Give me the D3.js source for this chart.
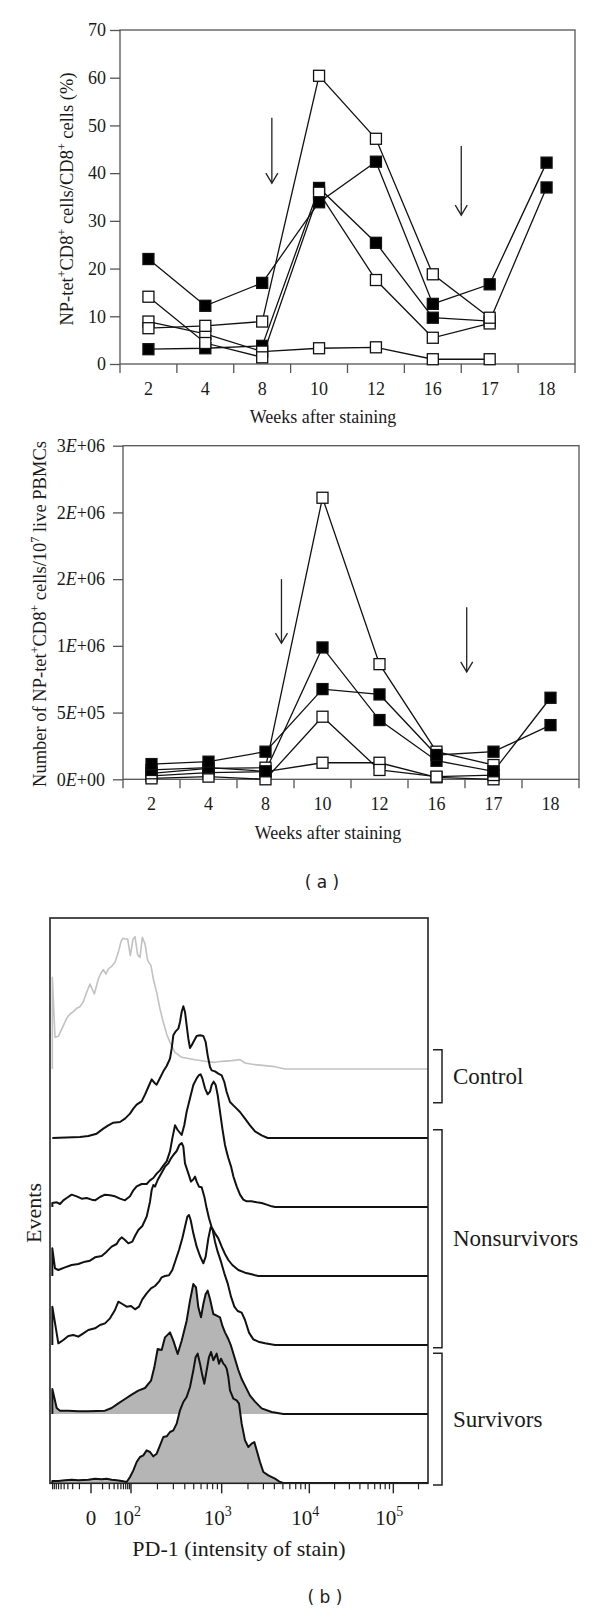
<!DOCTYPE html>
<html><head><meta charset="utf-8">
<script src="https://cdn.jsdelivr.net/npm/d3@7/dist/d3.min.js"></script>
<style>
body{margin:0;background:#fff}
svg{display:block}
text{font-family:"Liberation Serif","Times New Roman",serif;fill:#1a1a1a}
</style></head>
<body><svg id="c" width="600" height="1613"></svg>
<script>
// ---------------- DATA ----------------
const weeks = ["2","4","8","10","12","16","17","18"];

// (a) top: NP-tet+CD8+ cells / CD8+ cells (%)
const pctOpenA  = [7.5, 8.0, 8.9, 60.4, 47.2, 18.8, 9.7, null];
const pctOpenB  = [14.1, 4.4, 1.4, 35.9, 17.6, 5.5, 8.5, null];
const pctOpenC  = [8.9, 6.3, 2.6, 3.3, 3.5, 1.0, 1.0, null];
const pctFilledE = [3.1, 3.3, 3.8, 36.9, 25.4, 9.7, 9.0, 37.0];
const pctFilledD = [22.0, 12.2, 17.0, 33.9, 42.4, 12.6, 16.7, 42.2];
const pctTicks = [0, 10, 20, 30, 40, 50, 60, 70];
const pctTickLabels = ["0","10","20","30","40","50","60","70"];
const pctArrows = [{week:"8", frac:0.67, from:51.6, to:37.9}, {week:"16", frac:1.0, from:45.7, to:31.2}];

// (a) bottom: number of NP-tet+CD8+ cells / 10^7 live PBMCs
const numOpenA  = [45000, 82000, 87000, 2110000, 863000, 207000, 107000, null];
const numOpenB  = [7000, 20000, 0, 469000, 70000, 20000, 32000, null];
const numOpenC  = [25000, 50000, 57000, 124000, 124000, 15000, 0, null];
const numFilledE = [70000, 88000, 60000, 988000, 444000, 139000, 60000, 611000];
const numFilledD = [114000, 132000, 207000, 676000, 636000, 182000, 207000, 406000];
const numTicks = [0, 500000, 1000000, 1500000, 2000000, 2500000];
const numTickLabels = ["0E+00","5E+05","1E+06","2E+06","2E+06","3E+06"];
const numArrows = [{week:"8", frac:0.78, from:1500000, to:1020000}, {week:"17", frac:0.03, from:1290000, to:805000}];

// (b) PD-1 histograms: channel (0-1134) and events (mode ~396)
const ctrlCh  = [7,7,15,25,40,50,60,70,80,90,100,110,120,133,145,153,160,168,175,185,195,205,213,218,225,233,241,249,255,263,270,277,285,293,303,310,320,330,340,350,360,375,395,435,475,495,515,545,570,585,615,645,675,705,1134];
const ctrlCnt = [0,275,95,98,130,152,165,172,182,187,202,230,255,225,270,288,298,285,300,308,320,350,382,392,390,390,340,390,397,342,335,395,375,325,310,270,230,180,140,105,80,50,35,28,22,20,23,25,28,18,13,10,7,0,0];
const ns1Ch  = [7,90,115,140,160,175,190,210,225,240,250,260,275,285,295,305,313,320,330,340,350,360,365,370,377,385,390,395,400,405,410,415,420,425,433,440,450,460,467,473,480,485,495,505,515,523,530,540,550,560,570,585,600,615,635,653,1134];
const ns1Cnt = [0,3,6,13,28,38,46,48,58,73,88,100,110,130,153,176,166,160,180,200,216,238,268,308,320,328,348,378,395,378,338,298,270,278,293,306,308,306,288,248,213,203,200,193,188,168,138,108,98,88,78,58,38,20,8,0,0];
const ns2Ch  = [7,7,20,30,40,50,65,80,95,110,125,135,150,165,180,195,210,225,240,250,260,275,290,300,310,320,330,340,350,355,360,367,375,383,395,403,410,420,430,440,447,452,457,465,473,480,485,491,497,503,510,517,525,530,535,543,550,560,570,580,590,605,620,635,650,665,675,1134];
const ns2Cnt = [0,12,14,9,20,27,37,32,25,27,22,20,30,37,35,32,25,20,32,50,62,69,69,80,87,100,110,124,137,152,167,206,245,231,216,246,286,326,366,386,396,398,386,356,338,346,366,376,366,336,286,236,186,166,147,122,92,62,37,22,17,17,14,12,7,2,0,0];
const ns3Ch  = [7,7,15,25,45,65,85,105,120,135,155,170,185,200,207,215,225,235,247,255,265,277,290,300,305,310,315,323,335,345,355,363,370,380,388,395,400,405,415,423,430,435,440,447,455,463,470,477,485,495,505,515,525,535,547,565,585,605,625,1134];
const ns3Cnt = [0,83,23,18,26,33,36,43,46,56,60,73,88,96,108,116,108,98,103,120,138,150,178,223,258,273,268,288,310,328,338,353,363,375,393,399,388,338,308,283,290,298,283,268,266,238,203,173,146,128,113,88,66,48,33,18,10,5,0,0];
const ns4Ch  = [7,7,25,40,55,70,85,100,115,135,150,165,180,195,205,217,230,243,255,267,277,290,303,315,327,335,345,357,367,377,387,397,405,412,417,422,430,440,450,460,467,475,482,488,495,503,513,523,533,543,553,563,575,585,597,610,625,645,675,1134];
const ns4Cnt = [0,115,5,15,27,30,25,35,45,50,60,65,80,105,130,123,115,117,107,115,137,155,170,177,190,203,207,209,225,255,285,320,355,385,390,375,335,295,267,245,265,320,353,345,310,280,250,215,185,145,115,102,97,75,37,17,10,5,0,0];
const s1Ch  = [7,7,20,30,55,85,115,165,185,205,225,245,265,285,303,313,323,335,345,360,370,383,395,410,420,430,438,445,453,460,467,473,480,490,500,510,517,525,535,543,555,565,575,585,600,615,635,665,700,1134];
const s1Cnt = [0,75,18,10,10,8,8,10,18,32,45,58,70,78,100,140,195,192,230,245,220,180,220,280,340,390,380,320,290,330,360,370,345,300,295,290,265,245,225,205,165,132,105,85,55,37,17,6,0,0];
const s2Ch  = [7,7,25,45,65,85,115,135,155,170,185,200,215,230,240,250,260,270,280,290,300,310,320,330,340,350,360,370,380,390,400,410,420,430,437,443,450,457,463,470,477,483,490,495,500,507,513,520,525,530,535,540,550,560,567,575,585,595,605,613,620,630,640,655,675,690,700,1134];
const s2Cnt = [0,6,6,8,10,8,10,13,11,13,10,8,6,3,18,38,63,78,83,98,93,80,88,113,138,140,153,158,178,218,243,258,288,338,378,388,358,323,298,338,378,393,368,378,388,358,373,358,353,343,318,278,253,248,238,178,128,108,118,123,98,63,33,23,13,3,0,0];

// PD-1 axis (biexponential display): anchor values and the channels they sit on
const pd1AnchorValues   = [-100, 0, 100, 1000, 10000, 100000, 262144];
const pd1AnchorChannels = [3, 123, 243, 515, 778, 1030, 1135];
const pd1MajorTicks = [0, 100, 1000, 10000, 100000];
const pd1MajorLabels = [["0",""],["10","2"],["10","3"],["10","4"],["10","5"]];
const pd1MinorTicks = [-90,-80,-70,-60,-50,-40,-30,-20,-10,10,20,30,40,50,60,70,80,90,
  200,300,400,500,600,700,800,900,2000,3000,4000,5000,6000,7000,8000,9000,
  20000,30000,40000,50000,60000,70000,80000,90000,200000];
const groups = [
  {label:"Control", from:-0.28, to:0.49},
  {label:"Nonsurvivors", from:0.88, to:4.04},
  {label:"Survivors", from:4.12, to:6.03}
];

// ---------------- DRAW ----------------
const svg = d3.select("#c");
const AX = "#555";

function rich(sel, parts, supSize, shift) {
  let prev = false;
  parts.forEach(([t, s]) => {
    const ts = sel.append("tspan").text(t);
    if (s) { ts.attr("font-size", supSize); if (!prev) ts.attr("dy", -shift); }
    else if (prev) ts.attr("dy", shift);
    prev = s;
  });
}

function lineChart(cfg) {
  const x = d3.scaleBand().domain(weeks).range([cfg.x0, cfg.x1]).padding(0);
  const y = d3.scaleLinear().domain([0, cfg.max]).range([cfg.y1, cfg.y0]);
  const g = svg.append("g");
  g.append("rect").attr("x", cfg.x0).attr("y", cfg.y0)
    .attr("width", cfg.x1 - cfg.x0).attr("height", cfg.y1 - cfg.y0)
    .attr("fill", "none").attr("stroke", AX).attr("stroke-width", 1.3);
  // y axis
  const ya = g.append("g").attr("transform", `translate(${cfg.x0},0)`)
    .call(d3.axisLeft(y).tickValues(cfg.ticks).tickSize(10).tickPadding(cfg.pad).tickFormat(() => ""));
  ya.select(".domain").remove();
  ya.selectAll("line").attr("stroke", AX).attr("stroke-width", 1.3);
  ya.selectAll(".tick text").each(function(d, i) {
    const t = d3.select(this).attr("font-size", 18).attr("font-family", null).attr("fill", "#1a1a1a");
    const lab = cfg.labels[i];
    if (lab.includes("E")) {
      const [a, b] = lab.split("E");
      t.append("tspan").text(a);
      t.append("tspan").attr("font-style", "italic").text("E");
      t.append("tspan").text(b);
    } else t.text(lab);
  });
  // x ticks at band boundaries
  const bounds = d3.range(weeks.length + 1).map(i => cfg.x0 + i * x.step());
  g.selectAll(".xt").data(bounds).join("line")
    .attr("x1", d => d).attr("x2", d => d).attr("y1", cfg.y1).attr("y2", cfg.y1 + 9)
    .attr("stroke", AX).attr("stroke-width", 1.3);
  g.selectAll(".xl").data(weeks).join("text")
    .attr("x", d => x(d) + x.bandwidth() / 2).attr("y", cfg.y1 + 31)
    .attr("text-anchor", "middle").attr("font-size", 18).text(d => d);
  g.append("text").attr("x", cfg.titleX).attr("y", cfg.y1 + cfg.titleDy)
    .attr("text-anchor", "middle").attr("font-size", 18).text("Weeks after staining");
  const yt = g.append("text").attr("text-anchor", "middle").attr("font-size", 18.5)
    .attr("transform", `translate(${cfg.ytX},${cfg.ytY}) rotate(-90)`);
  rich(yt, cfg.ytitle, 12, 7);
  // arrows
  cfg.arrows.forEach(a => {
    const ax = x(a.week) + a.frac * x.bandwidth();
    const yA = y(a.from), yB = y(a.to);
    g.append("line").attr("x1", ax).attr("x2", ax).attr("y1", yA).attr("y2", yB)
      .attr("stroke", "#222").attr("stroke-width", 1.3);
    g.append("path").attr("d", `M${ax - 6},${yB - 10}L${ax},${yB}L${ax + 6},${yB - 10}`)
      .attr("fill", "none").attr("stroke", "#222").attr("stroke-width", 1.3);
  });
  // series
  const line = d3.line().defined(d => d.v != null)
    .x(d => x(d.w) + x.bandwidth() / 2).y(d => y(d.v));
  const ser = cfg.series.map(s => ({filled: s.filled, pts: weeks.map((w, i) => ({w, v: s.values[i]}))}));
  ser.forEach(s => g.append("path").attr("d", line(s.pts)).attr("fill", "none")
    .attr("stroke", "#111").attr("stroke-width", 1.3));
  const M = 11;
  ser.forEach(s => g.selectAll(null).data(s.pts.filter(d => d.v != null)).join("rect")
    .attr("x", d => x(d.w) + x.bandwidth() / 2 - M / 2).attr("y", d => y(d.v) - M / 2)
    .attr("width", M).attr("height", M)
    .attr("fill", s.filled ? "#000" : "#fff").attr("stroke", "#111").attr("stroke-width", 1.3));
}

lineChart({
  x0: 120, x1: 575, y0: 30, y1: 364, max: 70, ticks: pctTicks, labels: pctTickLabels, pad: 4,
  titleX: 323, titleDy: 59, ytX: 73, ytY: 199,
  ytitle: [["NP-tet",0],["+",1],["CD8",0],["+",1],[" cells/CD8",0],["+",1],[" cells (%)",0]],
  arrows: pctArrows,
  series: [{values: pctFilledE, filled: true}, {values: pctOpenC, filled: false},
           {values: pctOpenB, filled: false}, {values: pctOpenA, filled: false},
           {values: pctFilledD, filled: true}]
});
lineChart({
  x0: 123, x1: 579, y0: 445.7, y1: 779.3, max: 2500000, ticks: numTicks, labels: numTickLabels, pad: 8,
  titleX: 328, titleDy: 60, ytX: 46, ytY: 614,
  ytitle: [["Number of NP-tet",0],["+",1],["CD8",0],["+",1],[" cells/10",0],["7",1],[" live PBMCs",0]],
  arrows: numArrows,
  series: [{values: numOpenC, filled: false}, {values: numOpenB, filled: false},
           {values: numOpenA, filled: false}, {values: numFilledE, filled: true},
           {values: numFilledD, filled: true}]
});

svg.append("text").attr("x", 322).attr("y", 888).attr("text-anchor", "middle")
  .attr("font-size", 17).style("font-family", "'DejaVu Sans', sans-serif").text("( a )");

// ---------- panel b ----------
const HX0 = 50, HX1 = 428, HY0 = 918, HY1 = 1483.3;
const chX = d3.scaleLinear().domain([0, 1134]).range([HX0, HX1]);
const rowBase = d3.scaleLinear().domain([0, 6]).range([1069, 1483]);
const evH = d3.scaleLinear().domain([0, 396]).range([0, 132]);
const tf = v => Math.sign(v) * Math.log10(1 + Math.abs(v) / 10);
const val2ch = d3.scaleLinear().domain(pd1AnchorValues.map(tf)).range(pd1AnchorChannels);
const pd1X = v => chX(val2ch(tf(v)));

const hist = [
  {ch: ctrlCh, cnt: ctrlCnt, stroke: "#c2c2c2", fill: null, w: 1.6},
  {ch: ns1Ch, cnt: ns1Cnt, stroke: "#111", fill: null, w: 2},
  {ch: ns2Ch, cnt: ns2Cnt, stroke: "#111", fill: null, w: 2},
  {ch: ns3Ch, cnt: ns3Cnt, stroke: "#111", fill: null, w: 2},
  {ch: ns4Ch, cnt: ns4Cnt, stroke: "#111", fill: null, w: 2},
  {ch: s1Ch, cnt: s1Cnt, stroke: "#111", fill: "#b5b5b5", w: 2},
  {ch: s2Ch, cnt: s2Cnt, stroke: "#111", fill: "#b5b5b5", w: 2}
];
const hg = svg.append("g");
hist.forEach((h, i) => {
  const base = rowBase(i);
  const pts = h.ch.map((c, k) => [c, h.cnt[k]]);
  if (h.fill) {
    hg.append("path").attr("d", d3.area().x(d => chX(d[0])).y0(base).y1(d => base - evH(d[1]))(pts))
      .attr("fill", h.fill);
  }
  hg.append("path").attr("d", d3.line().x(d => chX(d[0])).y(d => base - evH(d[1]))(pts))
    .attr("fill", "none").attr("stroke", h.stroke).attr("stroke-width", h.w).attr("stroke-linejoin", "round");
});
hg.append("rect").attr("x", HX0).attr("y", HY0).attr("width", HX1 - HX0).attr("height", HY1 - HY0)
  .attr("fill", "none").attr("stroke", "#222").attr("stroke-width", 1.6);

// PD-1 axis ticks
hg.selectAll(".mn").data(pd1MinorTicks).join("line")
  .attr("x1", d => pd1X(d)).attr("x2", d => pd1X(d)).attr("y1", HY1).attr("y2", HY1 + 6)
  .attr("stroke", "#222").attr("stroke-width", 1.2);
hg.selectAll(".mj").data(pd1MajorTicks).join("line")
  .attr("x1", d => pd1X(d)).attr("x2", d => pd1X(d)).attr("y1", HY1).attr("y2", HY1 + 10)
  .attr("stroke", "#222").attr("stroke-width", 1.4);
pd1MajorTicks.forEach((v, i) => {
  const [b, e] = pd1MajorLabels[i];
  const t = hg.append("text").attr("x", pd1X(v) - (e ? 4 : 0)).attr("y", 1525)
    .attr("text-anchor", "middle").attr("font-size", 21);
  t.append("tspan").text(b);
  if (e) t.append("tspan").attr("font-size", 14).attr("dy", -9).text(e);
});
hg.append("text").attr("x", 239).attr("y", 1556).attr("text-anchor", "middle")
  .attr("font-size", 22).text("PD-1 (intensity of stain)");
hg.append("text").attr("transform", "translate(41,1213) rotate(-90)").attr("text-anchor", "middle")
  .attr("font-size", 22).text("Events");

// group brackets
groups.forEach(gr => {
  const yA = rowBase(gr.from), yB = rowBase(gr.to);
  hg.append("path").attr("d", `M433,${yA}H442V${yB}H433`).attr("fill", "none")
    .attr("stroke", "#222").attr("stroke-width", 1.5);
  hg.append("text").attr("x", 453).attr("y", (yA + yB) / 2).attr("dy", "0.33em")
    .attr("font-size", 23).text(gr.label);
});

svg.append("text").attr("x", 325).attr("y", 1603).attr("text-anchor", "middle")
  .attr("font-size", 17).style("font-family", "'DejaVu Sans', sans-serif").text("( b )");
</script>
</body></html>
